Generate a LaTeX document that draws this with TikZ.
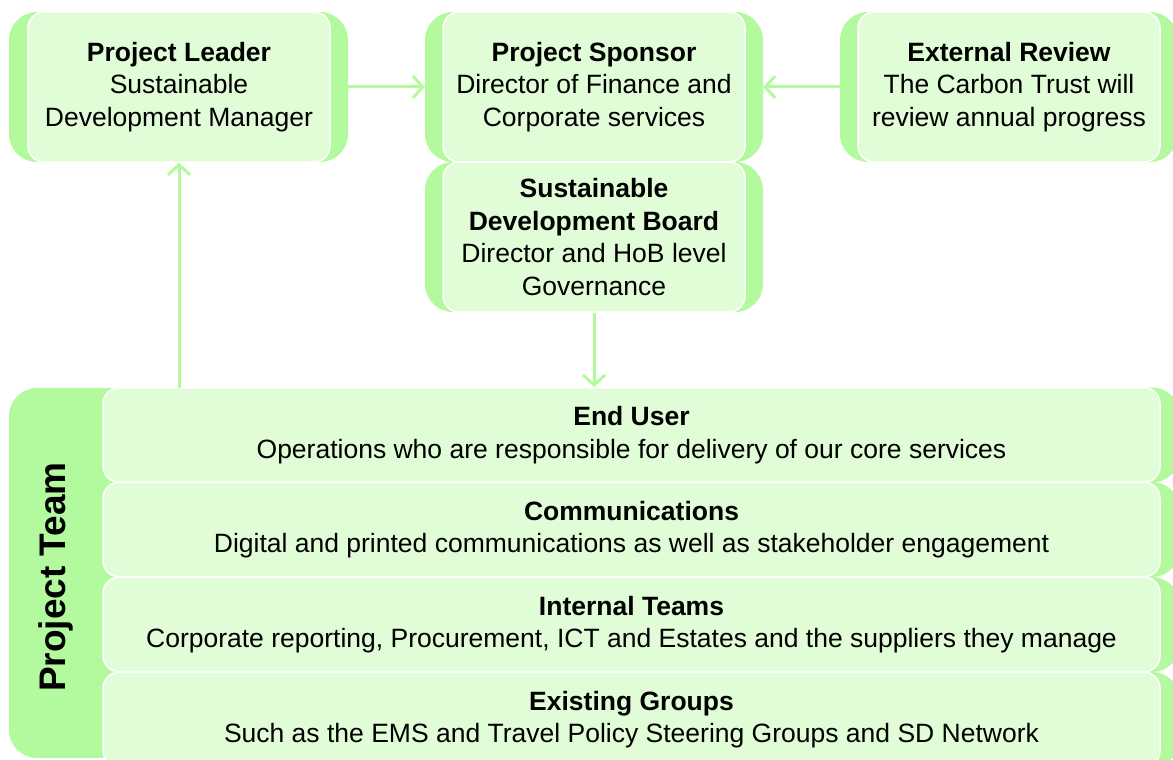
\documentclass[tikz,border=0pt]{standalone}
\usepackage{fontspec}
\setmainfont{Liberation Sans}
\usetikzlibrary{arrows.meta}
\definecolor{leaf}{HTML}{B3F99D}
\definecolor{mint}{HTML}{E1FDD7}
\tikzset{
  tab/.style={fill=leaf, draw=none, rounded corners=28pt, inner sep=0pt},
  card/.style={fill=mint, draw=white, line width=1.5pt, rounded corners=16pt,
    inner sep=0pt, align=center, text=black,
    font={\fontsize{26.5pt}{32.5pt}\selectfont}},
  link/.style={draw=leaf, line width=3pt,
    -{Straight Barb[length=10pt,width=22pt,line width=3pt]}},
}
\begin{document}
\begin{tikzpicture}[x=1pt, y=-1pt]
  \useasboundingbox (0,0) rectangle (1173,760);
  \clip (0,0) rectangle (1173,760);

  % upper row of boxes: green backing plus light card
  \node[tab, minimum width=339pt, minimum height=150pt] (leaderG) at (178.5,87) {};
  \node[card, minimum width=302pt, minimum height=150pt] (leader) at (179,87)
    {\textbf{Project Leader}\\Sustainable\\Development Manager};

  \node[tab, minimum width=338pt, minimum height=150pt] (sponsorG) at (594,87) {};
  \node[tab, minimum width=338pt, minimum height=150pt] (boardG) at (594,237) {};
  \node[card, minimum width=302pt, minimum height=150pt] (sponsor) at (594,87)
    {\textbf{Project Sponsor}\\Director of Finance and\\Corporate services};
  \node[card, minimum width=302pt, minimum height=150pt] (board) at (594,237)
    {\textbf{Sustainable}\\\textbf{Development Board}\\Director and HoB level\\Governance};

  \node[tab, minimum width=338pt, minimum height=150pt] (reviewG) at (1009,87) {};
  \node[card, minimum width=302pt, minimum height=150pt] (review) at (1009,87)
    {\textbf{External Review}\\The Carbon Trust will\\review annual progress};

  % project team block
  \node[tab, minimum width=300pt, minimum height=370pt] (teamG) at (159,573) {};
  \node[rotate=90, font={\bfseries\fontsize{37pt}{40pt}\selectfont}] (teamL) at (56,577) {Project Team};

  \node[tab, minimum width=300pt, minimum height=95pt] (g1) at (1030,435) {};
  \node[tab, minimum width=300pt, minimum height=95pt] (g2) at (1030,529.5) {};
  \node[tab, minimum width=300pt, minimum height=95pt] (g3) at (1030,624.5) {};
  \node[tab, minimum width=300pt, minimum height=95pt] (g4) at (1030,719.5) {};

  \node[card, minimum width=1057pt, minimum height=94.5pt] (enduser) at (631.5,435)
    {\textbf{End User}\\Operations who are responsible for delivery of our core services};
  \node[card, minimum width=1057pt, minimum height=94.5pt] (comms) at (631.5,529.5)
    {\textbf{Communications}\\Digital and printed communications as well as stakeholder engagement};
  \node[card, minimum width=1057pt, minimum height=94.5pt] (internal) at (631.5,624.5)
    {\textbf{Internal Teams}\\Corporate reporting, Procurement, ICT and Estates and the suppliers they manage};
  \node[card, minimum width=1057pt, minimum height=94.5pt] (existing) at (631.5,719.5)
    {\textbf{Existing Groups}\\Such as the EMS and Travel Policy Steering Groups and SD Network};

  % connectors
  \draw[link] (leaderG.east) -- (sponsorG.west);
  \draw[link] (reviewG.west) -- (sponsorG.east);
  \draw[link] (board.south) -- (board.south |- enduser.north);
  \draw[link] (leader.south |- teamG.north) -- (leader.south);
\end{tikzpicture}
\end{document}
